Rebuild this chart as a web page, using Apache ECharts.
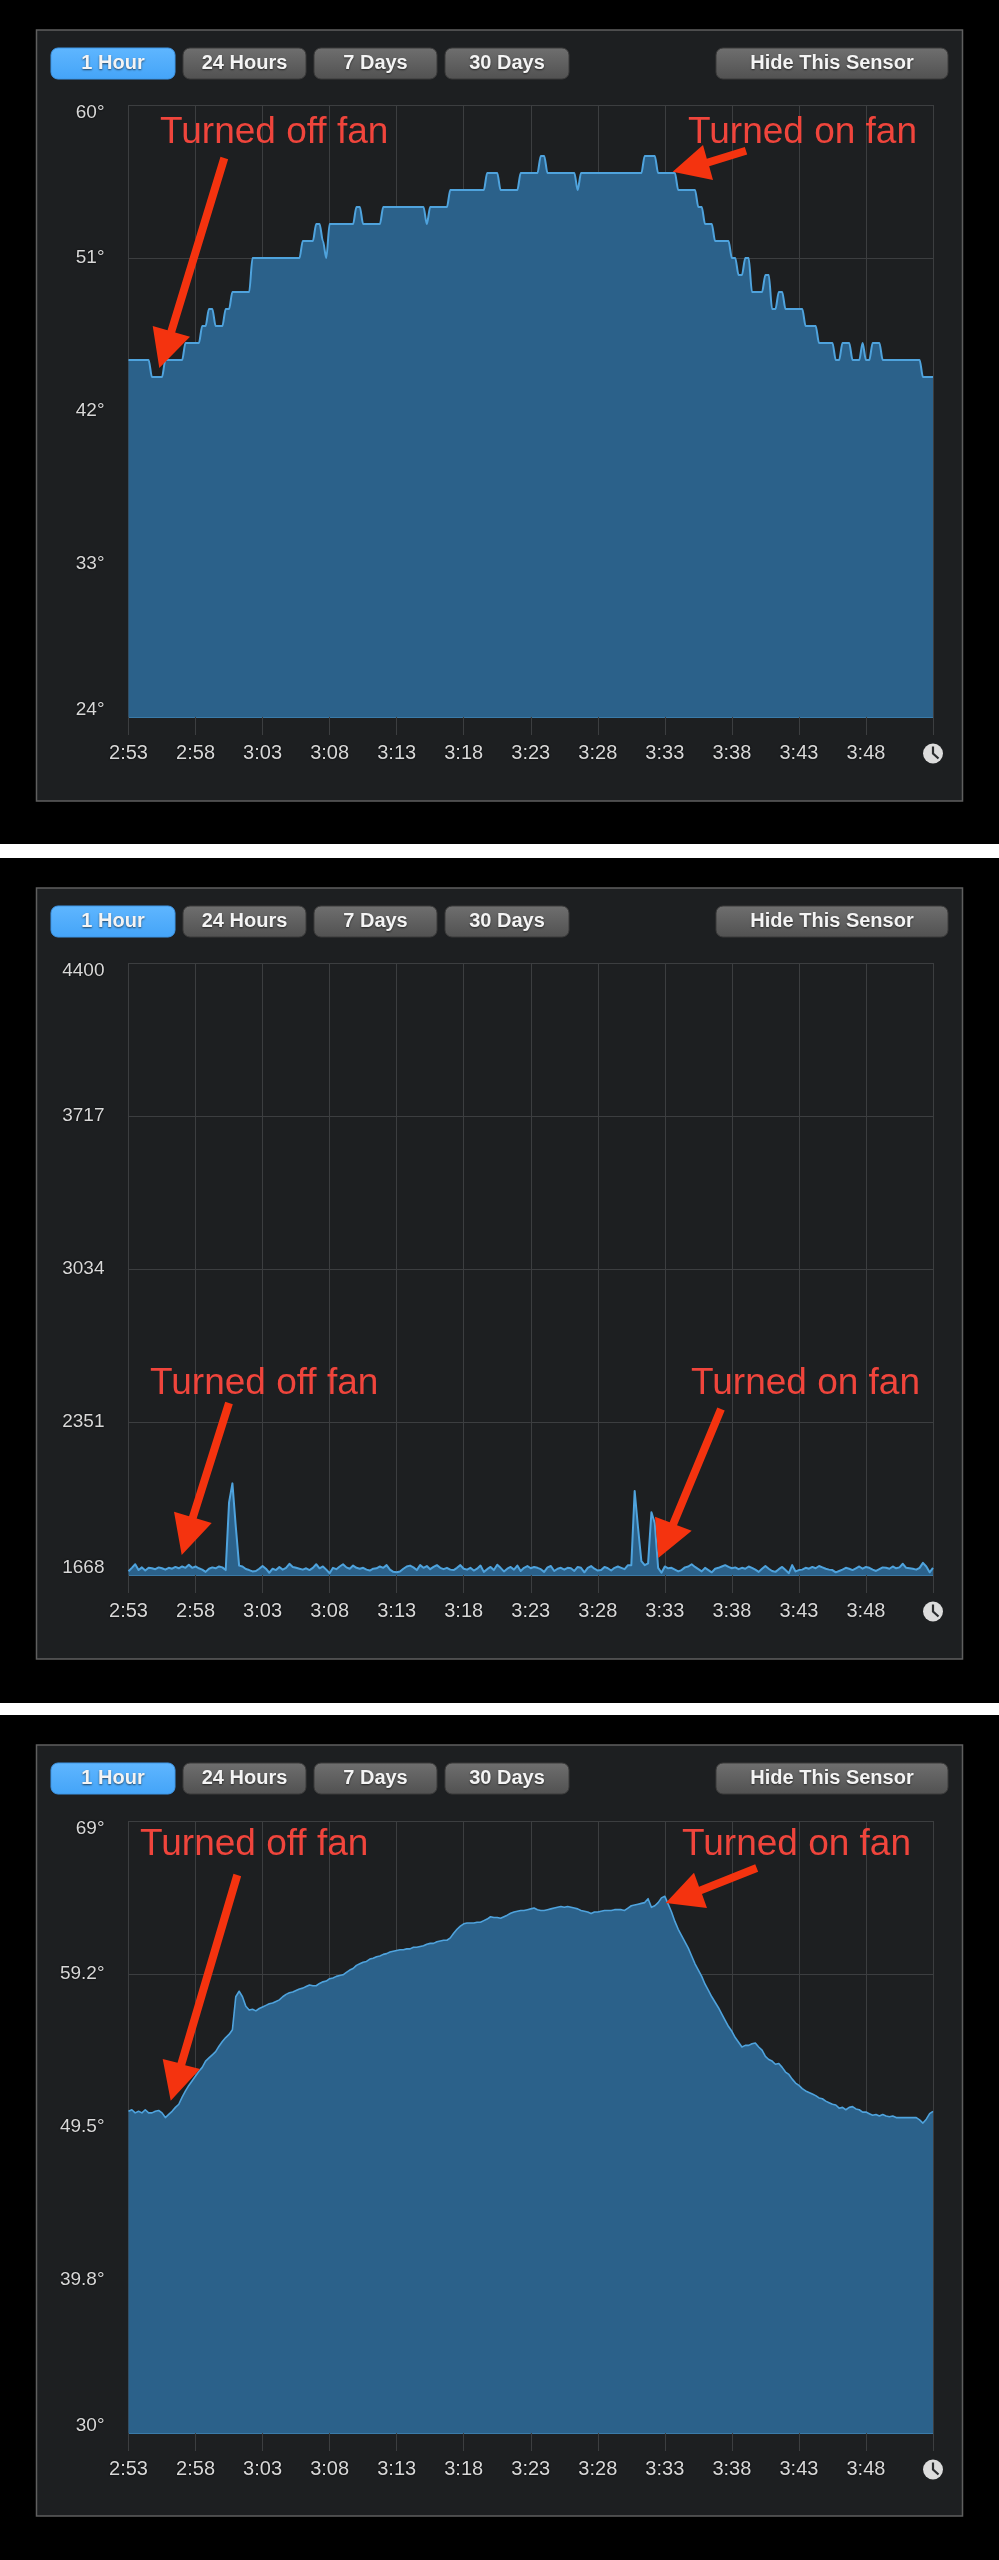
<!DOCTYPE html>
<html>
<head>
<meta charset="utf-8">
<style>html,body{margin:0;padding:0;background:#000}#c{width:999px;height:2560px}</style>
<script src="https://cdn.jsdelivr.net/npm/echarts@6/dist/echarts.min.js"></script>
</head>
<body>
<div id="c"></div>
<script>
const rangeButtons = ['1 Hour', '24 Hours', '7 Days', '30 Days'];
const hideButton = 'Hide This Sensor';
const timeLabels = ['2:53','2:58','3:03','3:08','3:13','3:18','3:23','3:28','3:33','3:38','3:43','3:48',''];
const sampleMinutes = 0.25;

const cpuTicks = [24, 33, 42, 51, 60];
const cpuTickLabels = ['24°', '33°', '42°', '51°', '60°'];
const fanTicks = [1668, 2351, 3034, 3717, 4400];
const fanTickLabels = ['1668', '2351', '3034', '3717', '4400'];
const gpuTicks = [30, 39.75, 49.5, 59.25, 69];
const gpuTickLabels = ['30°', '39.8°', '49.5°', '59.2°', '69°'];

const cpuValues = [
45,45,45,45,45,45,45,44,44,44,
44,45,45,45,45,45,45,46,46,46,
46,46,47,47,48,48,47,47,47,48,
48,49,49,49,49,49,49,51,51,51,
51,51,51,51,51,51,51,51,51,51,
51,51,52,52,52,52,53,53,52,51,
53,53,53,53,53,53,53,53,54,54,
53,53,53,53,53,53,54,54,54,54,
54,54,54,54,54,54,54,54,54,53,
54,54,54,54,54,54,55,55,55,55,
55,55,55,55,55,55,55,56,56,56,
56,55,55,55,55,55,55,56,56,56,
56,56,56,57,57,56,56,56,56,56,
56,56,56,56,55,56,56,56,56,56,
56,56,56,56,56,56,56,56,56,56,
56,56,56,56,57,57,57,57,56,56,
56,56,56,56,55,55,55,55,55,55,
54,54,53,53,53,52,52,52,52,52,
51,51,50,50,51,51,49,49,49,49,
50,50,48,48,49,49,48,48,48,48,
48,48,47,47,47,47,46,46,46,46,
46,45,45,46,46,46,45,45,45,46,
45,45,46,46,46,45,45,45,45,45,
45,45,45,45,45,45,45,44,44,44,
44];

const fanValues = [
1685,1700,1716,1690,1702,1688,1700,1698,1694,1702,
1698,1692,1700,1696,1704,1698,1706,1700,1714,1700,
1706,1698,1692,1682,1696,1702,1698,1706,1702,1690,
1992,2077,1885,1710,1706,1695,1690,1684,1686,1696,
1708,1696,1678,1696,1690,1704,1692,1700,1718,1704,
1700,1696,1692,1698,1690,1700,1716,1698,1706,1692,
1676,1700,1694,1706,1716,1702,1696,1710,1700,1696,
1700,1692,1688,1696,1698,1706,1700,1712,1692,1682,
1680,1684,1696,1706,1710,1702,1690,1712,1700,1708,
1694,1704,1712,1700,1694,1700,1692,1690,1700,1712,
1696,1692,1700,1688,1696,1710,1682,1694,1704,1690,
1714,1700,1684,1696,1704,1692,1710,1686,1700,1708,
1698,1704,1700,1694,1682,1702,1708,1686,1696,1700,
1692,1700,1698,1686,1704,1700,1680,1700,1708,1696,
1688,1690,1704,1698,1688,1700,1706,1700,1694,1712,
1712,2043,1880,1730,1712,1720,1948,1900,1700,1678,
1706,1698,1700,1692,1684,1690,1702,1706,1716,1704,
1694,1684,1700,1690,1680,1696,1700,1706,1712,1704,
1698,1702,1694,1700,1696,1706,1700,1692,1682,1696,
1708,1696,1686,1682,1694,1704,1690,1676,1712,1684,
1690,1692,1700,1696,1704,1698,1708,1702,1696,1692,
1690,1680,1686,1692,1700,1696,1690,1698,1706,1696,
1704,1700,1692,1686,1694,1702,1700,1696,1706,1698,
1702,1718,1700,1698,1696,1692,1700,1722,1706,1680,
1700];

const gpuValues = [
50.5,50.6,50.4,50.5,50.4,50.6,50.4,50.4,50.5,50.55,
50.4,50.1,50.3,50.5,50.75,50.95,51.4,51.8,52.15,52.45,
52.75,53.05,53.3,53.7,53.9,54.1,54.3,54.65,54.95,55.2,
55.4,55.7,57.8,58.15,57.8,57.2,56.95,57.0,56.9,57.05,
57.15,57.25,57.35,57.4,57.5,57.6,57.8,57.95,58.05,58.1,
58.2,58.3,58.35,58.45,58.55,58.5,58.5,58.65,58.75,58.8,
58.95,59.0,59.1,59.15,59.2,59.35,59.5,59.6,59.8,59.9,
60.0,60.05,60.2,60.25,60.35,60.4,60.5,60.55,60.65,60.7,
60.75,60.8,60.8,60.85,60.85,60.95,60.95,61.0,61.05,61.15,
61.2,61.2,61.3,61.35,61.4,61.4,61.55,61.85,62.1,62.3,
62.45,62.5,62.5,62.5,62.55,62.55,62.65,62.75,62.9,62.85,
62.85,62.8,62.9,63.0,63.12,63.2,63.25,63.3,63.3,63.35,
63.4,63.45,63.35,63.3,63.3,63.35,63.4,63.45,63.5,63.55,
63.5,63.55,63.5,63.45,63.4,63.3,63.25,63.2,63.1,63.2,
63.2,63.25,63.3,63.3,63.3,63.35,63.35,63.35,63.3,63.45,
63.6,63.65,63.7,63.75,63.8,64.05,63.5,63.6,63.8,64.1,
64.2,63.7,63.2,62.6,62.1,61.7,61.3,60.9,60.4,59.9,
59.5,59.1,58.6,58.2,57.8,57.45,57.1,56.7,56.3,55.9,
55.6,55.2,54.9,54.6,54.7,54.7,54.8,54.85,54.6,54.4,
54.0,53.8,53.7,53.5,53.55,53.3,53.0,52.85,52.55,52.3,
52.15,51.95,51.8,51.7,51.6,51.5,51.35,51.3,51.15,51.05,
50.95,50.9,50.7,50.75,50.6,50.75,50.8,50.65,50.6,50.45,
50.45,50.35,50.25,50.3,50.2,50.3,50.2,50.15,50.2,50.1,
50.1,50.1,50.1,50.1,50.1,50.1,49.95,49.75,50.0,50.35,
50.5];

const FONT = '"Liberation Sans", Arial, sans-serif';
const LINE = '#4fa3dd', FILL = '#2b618a', GRID = '#3c3e40', LABEL = '#d8d8d8', RED = '#f0453c', ARROW = '#f4330f';

const panels = [
  {top: 30,   gridTop: 105,  ticks: cpuTicks, labels: cpuTickLabels, values: cpuValues, smooth: 0.3, width: 2,
   offText: [160, 133], onText: [688, 133],
   offArrow: [[224.3,158],[152.7,326],[190,336.7],[159.3,368]],
   onArrow:  [[746,150.7],[703,145],[713,180],[672.7,171.7]]},
  {top: 888,  gridTop: 963,  ticks: fanTicks, labels: fanTickLabels, values: fanValues, smooth: false, width: 2,
   offText: [150, 1384], onText: [691, 1384],
   offArrow: [[229,1403],[174,1511.7],[211.7,1523],[181.7,1555]],
   onArrow:  [[721,1409],[655,1516.7],[691.7,1530.7],[658.3,1558]]},
  {top: 1745, gridTop: 1821, ticks: gpuTicks, labels: gpuTickLabels, values: gpuValues, smooth: false, width: 1.6,
   offText: [140, 1845], onText: [682, 1845],
   offArrow: [[237.3,1875],[162.7,2059],[200,2069],[170.7,2100.7]],
   onArrow:  [[756.7,1868],[694,1872.7],[707,1908],[665.7,1903]]}
];

const graphic = [];
function arrow(a) {
  const [tail, w1, w2, tip] = a;
  const mx = (w1[0] + w2[0]) / 2, my = (w1[1] + w2[1]) / 2;
  const dx = mx - tail[0], dy = my - tail[1], len = Math.hypot(dx, dy);
  const nx = -dy / len * 4, ny = dx / len * 4;
  return {type: 'polygon', z: 100, silent: true,
    shape: {points: [[tail[0]+nx,tail[1]+ny],[mx+nx,my+ny],w1,tip,w2,[mx-nx,my-ny],[tail[0]-nx,tail[1]-ny]]},
    style: {fill: ARROW}};
}
function annotation(text, pos) {
  return {type: 'text', z: 100, silent: true, x: pos[0], y: pos[1],
    style: {text, fill: RED, font: '37px ' + FONT, textVerticalAlign: 'middle', textAlign: 'left'}};
}
function button(x, w, y, text, blue) {
  graphic.push({type: 'rect', z: 5, silent: true,
    shape: {x, y, width: w, height: 31, r: 7},
    style: {
      fill: new echarts.graphic.LinearGradient(0, 0, 0, 1, blue
        ? [{offset: 0, color: '#5fb6ff'}, {offset: 1, color: '#44a4f8'}]
        : [{offset: 0, color: '#6f6f6f'}, {offset: 1, color: '#515151'}]),
      stroke: blue ? '#3f96e6' : '#3b3b3b', lineWidth: 1}});
  graphic.push({type: 'text', z: 6, silent: true, x: x + w / 2, y: y + 15.5,
    style: {text, fill: '#f4f4f4', font: 'bold 20px ' + FONT, textAlign: 'center', textVerticalAlign: 'middle',
      textShadowColor: 'rgba(0,0,0,.6)', textShadowBlur: 2, textShadowOffsetY: 1}});
}

graphic.push({type: 'rect', z: -5, silent: true, shape: {x: 0, y: 844, width: 999, height: 14}, style: {fill: '#ffffff'}});
graphic.push({type: 'rect', z: -5, silent: true, shape: {x: 0, y: 1703, width: 999, height: 12}, style: {fill: '#ffffff'}});

const rangeX = [[51, 124], [183, 123], [314, 123], [445, 124]];
const grids = [], xAxes = [], yAxes = [], series = [];
panels.forEach((p, idx) => {
  graphic.push({type: 'rect', z: -4, silent: true,
    shape: {x: 36.5, y: p.top, width: 926, height: 771},
    style: {fill: '#1d1f21', stroke: '#5f5f5f', lineWidth: 1.5}});
  rangeButtons.forEach((t, k) => button(rangeX[k][0], rangeX[k][1], p.top + 18, t, k === 0));
  button(716, 232, p.top + 18, hideButton, false);
  const cy = p.gridTop + 648.5;
  graphic.push({type: 'circle', z: 6, silent: true, shape: {cx: 933, cy, r: 10}, style: {fill: '#dcdcdc'}});
  graphic.push({type: 'polyline', z: 7, silent: true,
    shape: {points: [[933, cy - 7], [933, cy], [938.5, cy + 5]]},
    style: {stroke: '#2a2c2e', lineWidth: 2.2, fill: 'none'}});
  graphic.push(annotation('Turned off fan', p.offText));
  graphic.push(annotation('Turned on fan', p.onText));
  graphic.push(arrow(p.offArrow));
  graphic.push(arrow(p.onArrow));

  grids.push({left: 128.5, width: 804.5, top: p.gridTop, height: 612, containLabel: false});
  xAxes.push({
    type: 'value', gridIndex: idx, min: 0, max: 60, interval: 5,
    axisLine: {show: true, lineStyle: {color: '#3a7aa8', width: 1}},
    axisTick: {show: true, length: 18, lineStyle: {color: GRID, width: 1}},
    splitLine: {show: true, lineStyle: {color: GRID, width: 1}},
    axisLabel: {color: LABEL, fontFamily: FONT, fontSize: 20, margin: 26, hideOverlap: false,
      showMinLabel: true, showMaxLabel: true,
      textShadowColor: '#000', textShadowBlur: 2,
      formatter: v => timeLabels[Math.round(v / 5)]}
  });
  yAxes.push({
    type: 'value', gridIndex: idx, min: p.ticks[0], max: p.ticks[p.ticks.length - 1],
    axisLine: {show: false},
    axisTick: {show: false, customValues: p.ticks},
    splitLine: {show: true, lineStyle: {color: GRID, width: 1}},
    axisLabel: {color: LABEL, fontFamily: FONT, fontSize: 19, lineHeight: 15, margin: 24,
      customValues: p.ticks,
      verticalAlignMaxLabel: 'top', verticalAlignMinLabel: 'bottom',
      textShadowColor: '#000', textShadowBlur: 2,
      formatter: v => p.labels[p.ticks.indexOf(v)]}
  });
  series.push({
    type: 'line', xAxisIndex: idx, yAxisIndex: idx,
    data: p.values.map((v, i) => [i * sampleMinutes, v]),
    showSymbol: false, symbol: 'none', smooth: p.smooth, smoothMonotone: 'x',
    lineStyle: {color: LINE, width: p.width, join: 'round'},
    itemStyle: {color: LINE},
    areaStyle: {color: FILL, opacity: 1, origin: 'start'},
    silent: true, animation: false
  });
});

const chart = echarts.init(document.getElementById('c'), null, {renderer: 'canvas'});
chart.setOption({
  backgroundColor: '#000000',
  animation: false,
  grid: grids, xAxis: xAxes, yAxis: yAxes, series,
  graphic: {elements: graphic}
});
</script>
</body>
</html>
